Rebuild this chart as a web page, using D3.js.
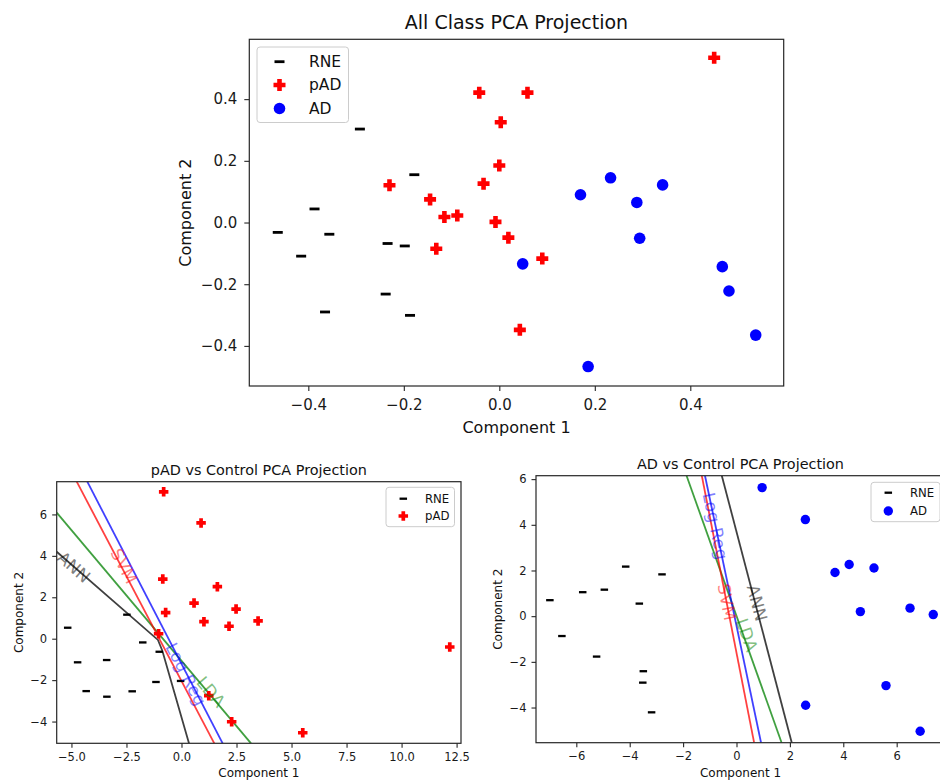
<!DOCTYPE html>
<html>
<head>
<meta charset="utf-8">
<script src="https://cdn.jsdelivr.net/npm/d3@7"></script>
<style>
  body { margin: 0; background: #fff; }
  svg { display: block; font-family: "DejaVu Sans", sans-serif; }
</style>
</head>
<body>
<svg id="fig" width="940" height="780"></svg>
<script>
// All class projection (component 1, component 2)
const allRne = [[-0.292, 0.303], [-0.178, 0.155], [-0.387, 0.044], [-0.464, -0.032], [-0.356, -0.038],
  [-0.234, -0.068], [-0.198, -0.076], [-0.415, -0.109], [-0.238, -0.232], [-0.365, -0.290], [-0.187, -0.301]]
const allPad = [[0.450, 0.534], [-0.042, 0.421], [0.059, 0.421], [0.003, 0.325], [0.000, 0.185],
  [-0.033, 0.126], [-0.230, 0.121], [-0.145, 0.075], [-0.115, 0.018], [-0.088, 0.023], [-0.008, 0.002],
  [-0.132, -0.085], [0.019, -0.049], [0.090, -0.117], [0.043, -0.348]]
const allAd = [[0.170, 0.090], [0.233, 0.145], [0.342, 0.122], [0.288, 0.065], [0.049, -0.134],
  [0.294, -0.051], [0.467, -0.143], [0.481, -0.222], [0.537, -0.365], [0.186, -0.467]]

// pAD vs control
const padRne = [[-2.48, 1.16], [-5.17, 0.53], [-1.76, -0.18], [-1.01, -0.63], [-4.72, -1.14], [-3.40, -1.03],
  [-1.16, -2.09], [-0.04, -2.04], [-4.33, -2.53], [-2.24, -2.54], [-3.39, -2.80]]
const padPad = [[-0.81, 7.09], [0.89, 5.59], [-0.85, 2.88], [1.63, 2.51], [0.57, 1.72], [-0.72, 1.26],
  [2.48, 1.43], [1.02, 0.82], [2.16, 0.60], [3.48, 0.86], [-1.04, 0.24], [12.19, -0.40], [1.24, -2.75],
  [2.28, -4.01], [5.51, -4.54]]
const padSvm = [[-4.76, 7.58], [1.49, -5.05]]
const padLogReg = [[-4.28, 7.58], [1.87, -5.05]]
const padLda = [[-5.67, 6.09], [3.16, -5.05]]
const padAnn = [[-5.67, 4.20], [-1.07, -0.06], [-0.87, -0.58], [0.34, -5.05]]
// where the classifier names sit (data coords)
const padLabelAt = { ANN: [-4.89, 3.46], SVM: [-2.61, 3.51], 'Log Reg': [0.20, -1.71], LDA: [1.34, -2.57] }

// AD vs control
const adRne = [[-6.99, 0.70], [-5.76, 1.05], [-4.95, 1.16], [-4.15, 2.17], [-2.79, 1.83], [-3.64, 0.55],
  [-6.54, -0.87], [-5.24, -1.77], [-3.49, -2.41], [-3.51, -2.91], [-3.18, -4.21]]
const adAd = [[0.96, 5.63], [2.58, 4.23], [3.69, 1.91], [4.22, 2.26], [5.15, 2.11], [4.64, 0.20],
  [6.50, 0.35], [7.37, 0.07], [2.59, -3.90], [5.60, -3.04], [6.88, -5.04]]
const adSvm = [[-1.30, 6.15], [0.66, -5.54]]
const adLogReg = [[-1.18, 6.15], [0.92, -5.54]]
const adLda = [[-1.87, 6.15], [1.69, -5.54]]
const adAnn = [[-0.55, 6.15], [2.07, -5.54]]
const adLabelAt = { 'Log Reg': [-0.79, 3.95], SVM: [-0.36, 0.62], LDA: [0.39, -0.82], ANN: [0.77, 0.58] }

// tick labels
const topXTicks = [-0.4, -0.2, 0.0, 0.2, 0.4]
const topYTicks = [-0.4, -0.2, 0.0, 0.2, 0.4]
const padXTicks = [-5.0, -2.5, 0.0, 2.5, 5.0, 7.5, 10.0, 12.5]
const padYTicks = [-4, -2, 0, 2, 4, 6]
const adXTicks = [-6, -4, -2, 0, 2, 4, 6]
const adYTicks = [-4, -2, 0, 2, 4, 6]

//Couleurs des classifieurs (ligne, étiquette)
const clfColor = {
  SVM: ['rgba(255,0,0,0.75)', 'rgba(255,0,0,0.5)'],
  'Log Reg': ['rgba(0,0,255,0.75)', 'rgba(0,0,255,0.5)'],
  LDA: ['rgba(0,128,0,0.75)', 'rgba(0,128,0,0.5)'],
  ANN: ['rgba(0,0,0,0.75)', 'rgba(0,0,0,0.5)']
}

const svg = d3.select('#fig')

function drawMarker(sel, kind, s) {
  if (kind === 'dash') {
    sel.append('rect').attr('x', -s.dash / 2).attr('y', -s.dashH / 2)
      .attr('width', s.dash).attr('height', s.dashH).attr('fill', '#000')
  } else if (kind === 'plus') {
    const a = s.plus / 2, t = s.plusT / 2
    sel.append('path')
      .attr('d', `M${-t},${-a}H${t}V${-t}H${a}V${t}H${t}V${a}H${-t}V${t}H${-a}V${-t}H${-t}Z`)
      .attr('fill', '#ff0000')
  } else {
    sel.append('circle').attr('r', s.dot).attr('fill', '#0000ff')
  }
}

function drawPanel(p) {
  const g = svg.append('g')
  const x = d3.scaleLinear().domain(p.xDomain).range([p.left, p.left + p.width])
  const y = d3.scaleLinear().domain(p.yDomain).range([p.top + p.height, p.top])

  g.append('clipPath').attr('id', p.id + '-clip')
    .append('rect').attr('x', p.left).attr('y', p.top).attr('width', p.width).attr('height', p.height)
  const plot = g.append('g').attr('clip-path', `url(#${p.id}-clip)`)

  //Frontières de décision
  const line = d3.line().x(d => x(d[0])).y(d => y(d[1]))
  ;(p.bounds || []).forEach(b => {
    plot.append('path').attr('d', line(b.pts)).attr('fill', 'none')
      .attr('stroke', clfColor[b.name][0]).attr('stroke-width', p.lineW)
  })

  //Points
  p.series.forEach(s => {
    plot.selectAll(null).data(s.data).enter().append('g')
      .attr('transform', d => `translate(${x(d[0])},${y(d[1])})`)
      .each(function () { drawMarker(d3.select(this), s.kind, p.mk) })
  })

  //Étiquettes des frontières, orientées comme la ligne
  ;(p.bounds || []).forEach(b => {
    const at = p.labelAt[b.name]
    const a = b.pts[0], c = b.pts[1]
    const ang = Math.atan2(y(c[1]) - y(a[1]), x(c[0]) - x(a[0])) * 180 / Math.PI
    plot.append('text').text(b.name)
      .attr('transform', `translate(${x(at[0])},${y(at[1])}) rotate(${ang})`)
      .attr('text-anchor', 'middle').attr('dominant-baseline', 'central')
      .attr('font-size', p.clfFont).attr('fill', clfColor[b.name][1])
  })

  //Cadre
  g.append('rect').attr('x', p.left).attr('y', p.top).attr('width', p.width).attr('height', p.height)
    .attr('fill', 'none').attr('stroke', '#262626').attr('stroke-width', 1.2)

  //Axes
  const xa = g.append('g').attr('transform', `translate(0,${p.top + p.height})`)
    .call(d3.axisBottom(x).tickValues(p.xTicks).tickFormat(d3.format(p.xFmt)).tickSize(p.tick).tickPadding(p.xPad))
  const ya = g.append('g').attr('transform', `translate(${p.left},0)`)
    .call(d3.axisLeft(y).tickValues(p.yTicks).tickFormat(d3.format(p.yFmt)).tickSize(p.tick).tickPadding(p.yPad))
  ;[xa, ya].forEach(a => {
    a.select('.domain').remove()
    a.selectAll('line').attr('stroke', '#262626').attr('stroke-width', 1.1)
    a.selectAll('text').attr('font-size', p.tickFont).attr('fill', '#1a1a1a')
      .attr('font-family', '"DejaVu Sans", sans-serif')
  })

  //Titres
  g.append('text').text(p.title).attr('x', p.left + p.width / 2).attr('y', p.titleY)
    .attr('text-anchor', 'middle').attr('dominant-baseline', 'central')
    .attr('font-size', p.titleFont).attr('fill', '#111')
  g.append('text').text('Component 1').attr('x', p.left + p.width / 2).attr('y', p.xLabelY)
    .attr('text-anchor', 'middle').attr('dominant-baseline', 'central')
    .attr('font-size', p.labelFont).attr('fill', '#111')
  g.append('text').text('Component 2')
    .attr('transform', `translate(${p.yLabelX},${p.top + p.height / 2}) rotate(-90)`)
    .attr('text-anchor', 'middle').attr('dominant-baseline', 'central')
    .attr('font-size', p.labelFont).attr('fill', '#111')

  //Légende
  const L = p.legend
  g.append('rect').attr('x', L.x).attr('y', L.y).attr('width', L.w).attr('height', L.h)
    .attr('rx', 3).attr('fill', 'rgba(255,255,255,0.8)').attr('stroke', '#cccccc').attr('stroke-width', 1)
  p.series.forEach((s, i) => {
    const row = g.append('g').attr('transform', `translate(${L.markX},${L.rows[i]})`)
    drawMarker(row, s.kind, p.mk)
    g.append('text').text(s.name).attr('x', L.textX).attr('y', L.rows[i])
      .attr('dominant-baseline', 'central').attr('font-size', L.font).attr('fill', '#111')
  })
}

drawPanel({
  id: 'all', left: 249.3, top: 39.3, width: 534.4, height: 346.7,
  xDomain: [-0.5236, 0.5956], yDomain: [-0.530, 0.594],
  xTicks: topXTicks, yTicks: topYTicks, xFmt: '.1f', yFmt: '.1f',
  tick: 5, xPad: 8.5, yPad: 7, tickFont: 15,
  title: 'All Class PCA Projection', titleY: 22, titleFont: 19,
  labelFont: 16, xLabelY: 427.5, yLabelX: 185,
  mk: { dash: 10, dashH: 2.8, plus: 12, plusT: 4.6, dot: 5.8 },
  series: [
    { name: 'RNE', kind: 'dash', data: allRne },
    { name: 'pAD', kind: 'plus', data: allPad },
    { name: 'AD', kind: 'dot', data: allAd }
  ],
  legend: { x: 257, y: 47, w: 91.5, h: 75.5, rows: [61.7, 85, 108.5], markX: 279.5, textX: 309, font: 15.5 }
})

drawPanel({
  id: 'pad', left: 56.7, top: 481.7, width: 404.3, height: 261.6,
  xDomain: [-5.67, 12.70], yDomain: [-5.05, 7.58],
  xTicks: padXTicks, yTicks: padYTicks, xFmt: '.1f', yFmt: 'd',
  tick: 4.5, xPad: 5, yPad: 5, tickFont: 11.5,
  title: 'pAD vs Control PCA Projection', titleY: 469.5, titleFont: 14.4,
  labelFont: 12, xLabelY: 773.3, yLabelX: 19,
  lineW: 1.8, clfFont: 17, labelAt: padLabelAt,
  bounds: [
    { name: 'ANN', pts: padAnn },
    { name: 'LDA', pts: padLda },
    { name: 'SVM', pts: padSvm },
    { name: 'Log Reg', pts: padLogReg }
  ],
  mk: { dash: 7.5, dashH: 2.3, plus: 9.5, plusT: 3.7, dot: 4.7 },
  series: [
    { name: 'RNE', kind: 'dash', data: padRne },
    { name: 'pAD', kind: 'plus', data: padPad }
  ],
  legend: { x: 386, y: 487.3, w: 68.5, h: 39.4, rows: [498.7, 516], markX: 403.3, textX: 425, font: 11.7 }
})

drawPanel({
  id: 'ad', left: 536, top: 475.7, width: 409, height: 267,
  xDomain: [-7.51, 7.81], yDomain: [-5.54, 6.15],
  xTicks: adXTicks, yTicks: adYTicks, xFmt: 'd', yFmt: 'd',
  tick: 4.5, xPad: 5, yPad: 5, tickFont: 11.5,
  title: 'AD vs Control PCA Projection', titleY: 464.3, titleFont: 14.4,
  labelFont: 12, xLabelY: 773.3, yLabelX: 498,
  lineW: 1.8, clfFont: 17, labelAt: adLabelAt,
  bounds: [
    { name: 'ANN', pts: adAnn },
    { name: 'LDA', pts: adLda },
    { name: 'SVM', pts: adSvm },
    { name: 'Log Reg', pts: adLogReg }
  ],
  mk: { dash: 7.5, dashH: 2.3, plus: 9.5, plusT: 3.7, dot: 4.7 },
  series: [
    { name: 'RNE', kind: 'dash', data: adRne },
    { name: 'AD', kind: 'dot', data: adAd }
  ],
  legend: { x: 871, y: 482.3, w: 69, h: 39.4, rows: [492.7, 511], markX: 888.3, textX: 910, font: 11.7 }
})
</script>
</body>
</html>
